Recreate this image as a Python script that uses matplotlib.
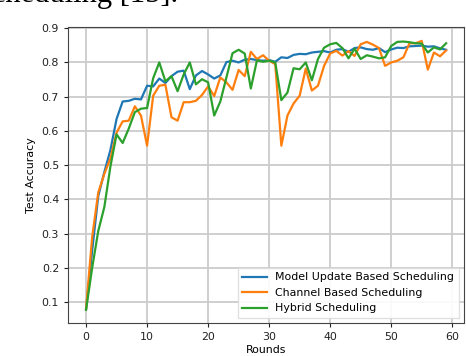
import matplotlib
matplotlib.use("Agg")
import matplotlib.pyplot as plt

# accuracy per round
rounds = list(range(60))

model_update_acc = [
    0.080, 0.250, 0.410, 0.480, 0.545, 0.635, 0.686, 0.688, 0.694, 0.692,
    0.732, 0.730, 0.753, 0.740, 0.760, 0.773, 0.776, 0.722, 0.762, 0.775,
    0.765, 0.753, 0.762, 0.801, 0.805, 0.800, 0.808, 0.810, 0.807, 0.805,
    0.807, 0.802, 0.815, 0.813, 0.822, 0.825, 0.824, 0.829, 0.831, 0.833,
    0.829, 0.837, 0.839, 0.831, 0.842, 0.844, 0.839, 0.837, 0.842, 0.830,
    0.838, 0.843, 0.842, 0.847, 0.848, 0.849, 0.846, 0.847, 0.841, 0.837,
]

channel_acc = [
    0.080, 0.290, 0.420, 0.475, 0.520, 0.595, 0.628, 0.630, 0.672, 0.645,
    0.557, 0.703, 0.732, 0.735, 0.640, 0.630, 0.684, 0.684, 0.688, 0.705,
    0.730, 0.702, 0.756, 0.742, 0.720, 0.778, 0.760, 0.831, 0.810, 0.821,
    0.805, 0.795, 0.557, 0.645, 0.680, 0.703, 0.782, 0.718, 0.732, 0.790,
    0.826, 0.834, 0.820, 0.833, 0.819, 0.853, 0.860, 0.852, 0.842, 0.790,
    0.800, 0.805, 0.815, 0.856, 0.856, 0.863, 0.779, 0.829, 0.818, 0.835,
]

hybrid_acc = [
    0.078, 0.200, 0.308, 0.378, 0.497, 0.590, 0.565, 0.607, 0.655, 0.665,
    0.667, 0.754, 0.800, 0.745, 0.760, 0.716, 0.765, 0.800, 0.736, 0.751,
    0.742, 0.645, 0.686, 0.756, 0.827, 0.837, 0.826, 0.724, 0.806, 0.802,
    0.805, 0.800, 0.690, 0.712, 0.783, 0.780, 0.800, 0.748, 0.810, 0.843,
    0.853, 0.857, 0.842, 0.812, 0.840, 0.810, 0.821, 0.817, 0.812, 0.815,
    0.848, 0.860, 0.861, 0.859, 0.856, 0.855, 0.829, 0.844, 0.838, 0.856,
]

labels = ["Model Update Based Scheduling", "Channel Based Scheduling", "Hybrid Scheduling"]

fs = 7.9
fig = plt.figure(figsize=(4.66, 3.56), dpi=100)
ax = fig.add_axes([0.146, 0.092, 0.85, 0.831])

ax.plot(rounds, model_update_acc, color="#1f77b4", lw=1.6, label=labels[0])
ax.plot(rounds, channel_acc, color="#ff7f0e", lw=1.6, label=labels[1])
ax.plot(rounds, hybrid_acc, color="#2ca02c", lw=1.6, label=labels[2])

ax.grid(True, color="#cccccc", lw=1.3)
ax.set_axisbelow(True)
for side in ax.spines.values():
    side.set_color("#444444")
ax.tick_params(labelsize=fs, colors="#222222", length=3)
ax.set_yticks([0.1, 0.2, 0.3, 0.4, 0.5, 0.6, 0.7, 0.8, 0.9])
ax.set_xticks([0, 10, 20, 30, 40, 50, 60])
ax.set_xlabel("Rounds", fontsize=fs, labelpad=2)
ax.set_ylabel("Test Accuracy", fontsize=fs)

ax.legend(loc="lower right", fontsize=fs, fancybox=False, framealpha=0.9,
          edgecolor="#dddddd", handlelength=2.2)

# caption fragment from the page above the figure, mostly cut off
fig.text(178 / 466, 1 - 2 / 356, "scheduling [15].", ha="right", va="baseline",
         fontsize=22, family="Liberation Serif", color="black")

fig.savefig("out.png", dpi=100)
